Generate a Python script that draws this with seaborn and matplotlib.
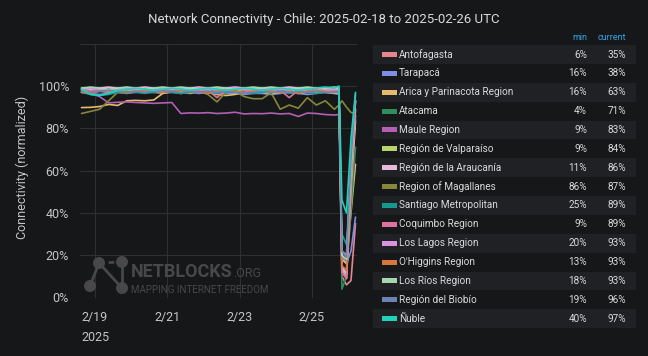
import matplotlib
matplotlib.use('Agg')
import numpy as np
import pandas as pd
import matplotlib.pyplot as plt
from matplotlib.patches import Rectangle, Circle
import seaborn as sns

# sample times: every 6h up to the blackout, then the outage hours
pre_times = pd.date_range('2025-02-18 15:00', '2025-02-25 15:00', freq='6h')
post_times = pd.to_datetime(['2025-02-25 18:00', '2025-02-25 20:00', '2025-02-25 23:00',
                             '2025-02-26 02:00', '2025-02-26 05:00'])
times = pre_times.append(post_times)

regions = ['Antofagasta', 'Tarapacá', 'Arica y Parinacota Region', 'Atacama', 'Maule Region',
           'Región de Valparaíso', 'Región de la Araucanía', 'Region of Magallanes',
           'Santiago Metropolitan', 'Coquimbo Region', 'Los Lagos Region', "O'Higgins Region",
           'Los Ríos Region', 'Región del Biobío', 'Ñuble']
colors = ['#e5878d', '#7d8fe4', '#e6bb6c', '#2f8d5c', '#b35fb6', '#b6d36c', '#e8b8dd',
          '#86873a', '#17988f', '#df709f', '#d892de', '#d7763d', '#a6d8b0', '#6a85b5', '#1fd3bb']
mins = [6, 16, 16, 4, 9, 9, 11, 86, 25, 9, 20, 13, 18, 19, 40]
currents = [35, 38, 63, 71, 83, 84, 86, 87, 89, 89, 93, 93, 93, 96, 97]

antofagasta = [98.5, 98, 97.5, 97, 98, 98.5, 98, 97.5, 98, 98.5, 98, 97.5, 98, 98.5, 98, 97, 98,
               98.5, 98, 98.5, 98, 97.5, 98, 98.5, 98, 97.5, 98, 98.5, 98, 97.5, 10, 6, 8, 35]
tarapaca = [97, 96.5, 96, 96.5, 97, 96.5, 97, 97.5, 97, 96.5, 97, 96.5, 97, 96.5, 97, 96, 96.5,
            96.5, 96, 96.5, 96.5, 96, 96.5, 97, 96.5, 96, 96.5, 97, 96.5, 96, 20, 16, 22, 38]
arica = [89.8, 89.9, 90.3, 91.3, 90.8, 93, 93.2, 93, 93.4, 96.5, 97.5, 97, 96.5, 97.5, 97, 96,
         95.5, 96, 97, 97.5, 97, 96.5, 97, 97.5, 96.5, 97, 97.5, 97, 96.5, 97, 18, 16, 40, 63]
atacama = [98, 98.5, 98, 98.5, 98, 98.5, 99, 98.5, 98, 98.5, 98, 98.5, 99, 98.5, 98, 98.5, 99,
           98.5, 98, 98.5, 98, 98.5, 98, 98.5, 99, 98.5, 98, 98.5, 98, 98.5, 4, 10, 42, 71]
maule = [97, 96.5, 95, 92, 92.3, 92.5, 92.2, 92, 91.8, 92, 92.2, 87, 87.3, 87.2, 87.4, 87, 87.2,
         87.6, 86.8, 87, 86.9, 87.2, 86.8, 87, 85.6, 87.2, 87, 86.5, 86.3, 86.5, 12, 9, 50, 83]
valparaiso = [97.5, 97, 98, 97.5, 97, 98, 97.5, 98, 97, 97.5, 98, 97.5, 97, 98, 97.5, 97, 98,
              97.5, 98, 97, 97.5, 98, 97, 97.5, 98, 97.5, 97, 98, 97.5, 97, 14, 9, 52, 84]
araucania = [99, 98.5, 99, 99.5, 99, 98.5, 99, 99.5, 99, 98.5, 99, 98.5, 99, 99.5, 99, 98.5, 99,
             99.5, 99, 98.5, 99, 98.5, 99, 99.5, 99, 98.5, 99, 98.5, 99, 99, 15, 11, 58, 86]
magallanes = [87, 88, 89, 93, 97, 96.5, 97.5, 97, 98, 97, 97.5, 96.5, 97, 97.5, 96, 92.5, 97,
              97.5, 95, 94, 94, 96.8, 89, 91, 89.5, 94.5, 91, 93, 89, 91, 93, 90, 87.5, 87]
santiago = [97, 96, 95.5, 96, 97, 97.5, 97, 96.5, 97, 97.5, 97, 96.5, 97, 97.5, 97, 96.5, 97,
            97.5, 97, 96.5, 97, 97.5, 97, 96.5, 97, 97, 96.5, 97, 97, 97.5, 30, 25, 60, 89]
coquimbo = [98, 97.5, 98, 97, 98, 98.5, 98, 97.5, 98, 97.5, 98, 98.5, 98, 97.5, 98, 94.5, 98,
            98.5, 98, 97.5, 98, 98.5, 98, 94.5, 98, 98.5, 98, 97.5, 98, 97, 12, 9, 55, 89]
los_lagos = [98.5, 99, 98.5, 98, 98.5, 99, 98.5, 98, 98.5, 99, 98.5, 98, 98.5, 99, 98.5, 98,
             98.5, 99, 98.5, 98, 98.5, 99, 98.5, 98, 98.5, 99, 98.5, 98, 98.5, 98, 22, 20, 62, 93]
ohiggins = [97, 96.5, 97.5, 98, 97.5, 97, 97.5, 98, 97.5, 97, 97.5, 98, 97.5, 97, 96.5, 97.5, 98,
            97.5, 97, 97.5, 98, 97.5, 97, 97.5, 96.5, 97.5, 98, 97.5, 97, 97.5, 15, 13, 60, 93]
los_rios = [99, 99.5, 99, 98.5, 99, 99.5, 99, 98.5, 99, 99.5, 99, 99.5, 99, 98.5, 99, 99.5, 99,
            98.5, 99, 99.5, 99, 99.5, 99, 98.5, 99, 99.5, 99, 99, 99.5, 99, 20, 18, 60, 93]
biobio = [97.5, 97, 97.5, 98, 97.5, 97, 97.5, 97, 97.5, 98, 97.5, 97, 97.5, 97, 97.5, 97, 97.5,
          97, 96.5, 97, 97.5, 97, 97.5, 97, 97.5, 97, 97.5, 97, 97, 97.5, 22, 19, 65, 96]
nuble = [98.5, 96, 95.5, 96.5, 98, 98.5, 99, 98.5, 98, 98.5, 99, 98.5, 98, 98.5, 99, 98.5, 98,
         98.5, 99, 98.5, 98, 98.5, 99, 98.5, 98, 98.5, 99, 99.5, 99, 100, 46, 40, 75, 97]

series = [antofagasta, tarapaca, arica, atacama, maule, valparaiso, araucania, magallanes,
          santiago, coquimbo, los_lagos, ohiggins, los_rios, biobio, nuble]

frames = []
for name, vals in zip(regions, series):
    frames.append(pd.DataFrame({'time': times, 'region': name, 'value': np.array(vals) / 100}))
df = pd.concat(frames, ignore_index=True)

BG = '#161719'
TXT = '#d8d9da'
GRID = '#2e2f32'

sns.set_theme(style='dark', rc={'figure.facecolor': BG, 'axes.facecolor': BG,
                                'axes.edgecolor': BG, 'text.color': TXT})
plt.rcParams['font.family'] = ['Roboto', 'DejaVu Sans']

W, H = 648, 356
fig = plt.figure(figsize=(6.48, 3.56), dpi=100)
ax = fig.add_axes([80 / W, 1 - 297.5 / H, (357 - 80) / W, (297.5 - 43.7) / H])

sns.lineplot(data=df, x='time', y='value', hue='region', hue_order=regions,
             palette=dict(zip(regions, colors)), legend=False, lw=1.2, estimator=None, ax=ax)

ax.set_xlim(pd.Timestamp('2025-02-18 14:00'), pd.Timestamp('2025-02-26 06:00'))
ax.set_ylim(0, 1.2)
ax.set_yticks([0, 0.2, 0.4, 0.6, 0.8, 1.0, 1.2])
ax.set_yticklabels(['0%', '20%', '40%', '60%', '80%', '100%', ''])
ax.set_xticks(pd.to_datetime(['2025-02-19', '2025-02-21', '2025-02-23', '2025-02-25']))
ax.set_xticklabels(['2/19\n2025', '2/21', '2/23', '2/25'], linespacing=1.7, va='top')
ax.tick_params(axis='both', length=0, colors='#c4c5c7', labelsize=9)
ax.tick_params(axis='y', pad=8)
ax.tick_params(axis='x', pad=10)
ax.grid(True, color=GRID, lw=0.8)
ax.set_xlabel('')
ax.set_ylabel('')
for s in ax.spines.values():
    s.set_visible(False)

fig.text(324 / W, 1 - 20 / H, 'Network Connectivity - Chile: 2025-02-18 to 2025-02-26 UTC',
         ha='center', va='center', fontsize=9.5, color=TXT)
fig.text(22 / W, 1 - 167 / H, 'Connectivity (normalized)', rotation=90,
         ha='center', va='center', fontsize=9, color='#c4c5c7')

# overlay in pixel coordinates for legend table and watermark
ov = fig.add_axes([0, 0, 1, 1])
ov.set_xlim(0, W)
ov.set_ylim(H, 0)
ov.axis('off')
ov.patch.set_alpha(0)

row_h = 18.87
y0 = 54.5
ov.text(587, 38, 'min', ha='right', va='center', fontsize=6.5, color='#33a2e5')
ov.text(626, 38, 'current', ha='right', va='center', fontsize=6.5, color='#33a2e5')
for i, (name, c, mn, cur) in enumerate(zip(regions, colors, mins, currents)):
    y = y0 + i * row_h
    if i % 2 == 0:
        ov.add_patch(Rectangle((373, y - row_h / 2), 263, row_h, color='#202125', lw=0))
    ov.add_patch(Rectangle((382, y - 2.5), 15, 5, color=c, lw=0))
    ov.text(399, y, name, ha='left', va='center', fontsize=7.2, color=TXT)
    ov.text(587, y, f'{mn}%', ha='right', va='center', fontsize=7.2, color=TXT)
    ov.text(626, y, f'{cur}%', ha='right', va='center', fontsize=7.2, color=TXT)

# NetBlocks watermark
WM = '#48484a'
nodes = [(99, 263), (122, 262), (90, 286), (122, 288)]
ov.plot([99, 122], [263, 262], color=WM, lw=2, ls=(0, (2, 1.5)))
ov.plot([99, 90], [263, 286], color=WM, lw=2)
ov.plot([99, 122], [263, 288], color=WM, lw=2)
ov.plot([122, 122], [262, 288], color=WM, lw=2)
for cx, cy in nodes:
    ov.add_patch(Circle((cx, cy), 6, color=WM, lw=0))
nb = ov.text(131, 277, 'NETBLOCKS', ha='left', va='baseline', fontsize=13, fontweight='bold',
             color=WM)
fig.canvas.draw()
ext = nb.get_window_extent(fig.canvas.get_renderer())
x_end = ext.x1  # pixels from left
ov.text(x_end + 1, 277, '.ORG', ha='left', va='baseline', fontsize=9, color=WM)
ov.text(131, 293, 'MAPPING INTERNET FREEDOM', ha='left', va='baseline', fontsize=7,
        color=WM)

fig.savefig('out.png', dpi=100, facecolor=BG)
